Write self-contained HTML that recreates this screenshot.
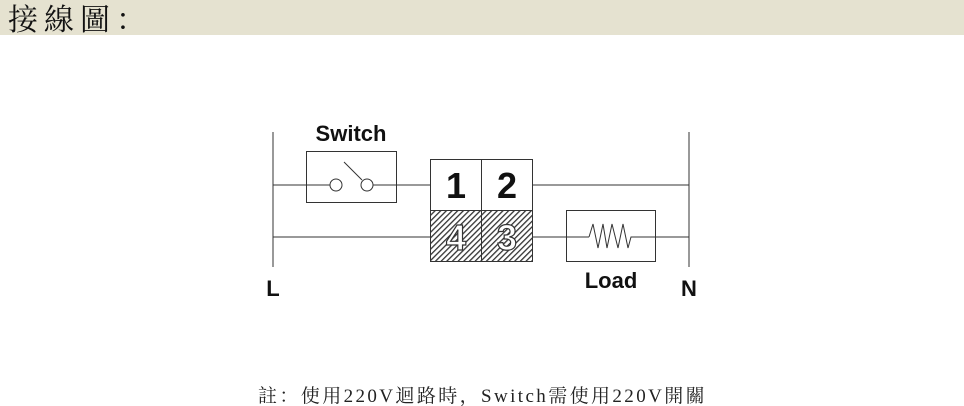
<!DOCTYPE html>
<html><head><meta charset="utf-8"><style>
html,body{margin:0;padding:0;background:#fff;width:964px;height:406px;overflow:hidden}
</style></head><body>
<svg width="964" height="406" xmlns="http://www.w3.org/2000/svg">
<defs>
<pattern id="h" width="4" height="4" patternUnits="userSpaceOnUse" patternTransform="rotate(45)">
<rect width="4" height="4" fill="#fff"/><rect width="1.3" height="4" fill="#333"/>
</pattern>
</defs>
<rect x="0" y="0" width="964" height="35" fill="#e5e2d0"/>
<text x="8" y="30" font-family="'Noto Serif CJK SC','Noto Serif CJK TC',serif" font-size="30" letter-spacing="6" fill="#111">接線圖：</text>
<g stroke="#333" stroke-width="1" fill="none">
<line x1="273" y1="132" x2="273" y2="267" stroke="#999" stroke-width="2"/>
<line x1="689" y1="132" x2="689" y2="267" stroke="#999" stroke-width="2"/>
<line x1="273" y1="185" x2="330" y2="185"/>
<line x1="373" y1="185" x2="430" y2="185"/>
<line x1="532" y1="185" x2="689" y2="185"/>
<line x1="273" y1="237" x2="430" y2="237"/>
<line x1="532" y1="237" x2="589" y2="237"/>
<line x1="632" y1="237" x2="689" y2="237"/>
<rect x="306.5" y="151.5" width="90" height="51"/>
<circle cx="336" cy="185" r="6" fill="#fff"/>
<circle cx="367" cy="185" r="6" fill="#fff"/>
<line x1="344" y1="162" x2="362" y2="180"/>
<rect x="430.5" y="210.5" width="102" height="51" fill="url(#h)"/>
<rect x="430.5" y="159.5" width="102" height="102"/>
<line x1="481.5" y1="159" x2="481.5" y2="262"/>
<line x1="430" y1="210.5" x2="532" y2="210.5"/>
<rect x="566.5" y="210.5" width="89" height="51"/>
<polyline points="589,237 593,224 598,248 603,224 607,248 612,224 618,248 623,224 628,248 631,237 632,237"/>
</g>
<g font-family="'Liberation Sans',sans-serif" font-weight="bold" fill="#111" text-anchor="middle">
<text x="351" y="141" font-size="22">Switch</text>
<text x="611" y="288" font-size="22">Load</text>
<text x="273" y="296" font-size="22">L</text>
<text x="689" y="296" font-size="22">N</text>
<text x="456" y="198" font-size="36">1</text>
<text x="507" y="198" font-size="36">2</text>
<text x="456" y="250" font-size="36" fill="#fff" stroke="#333" stroke-width="1.2">4</text>
<text x="507" y="250" font-size="36" fill="#fff" stroke="#333" stroke-width="1.2">3</text>
</g>
<text x="258" y="402" font-family="'Liberation Serif','Noto Serif CJK SC',serif" font-size="19" letter-spacing="2.4" fill="#222">註：使用220V迴路時，Switch需使用220V開關</text>
</svg>
</body></html>
